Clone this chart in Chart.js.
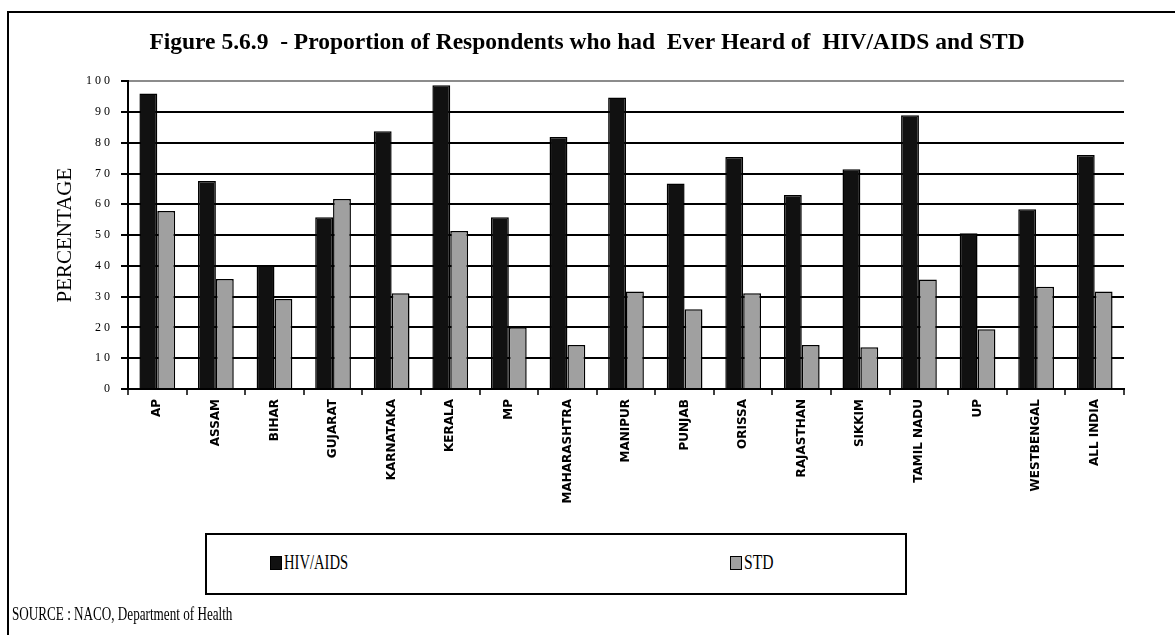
<!DOCTYPE html>
<html>
<head>
<meta charset="utf-8">
<title>Ever Heard of HIV/AIDS and STD</title>
<script src="https://cdn.jsdelivr.net/npm/chart.js@4/dist/chart.umd.min.js"></script>
<style>
  html, body { margin: 0; padding: 0; background: #fff; }
  #page { position: relative; width: 1175px; height: 635px; overflow: hidden; }
  #frame { position: absolute; left: 7px; top: 11px; width: 1300px; height: 700px;
           border-left: 2px solid #000; border-top: 2px solid #000; }
  #chart { position: absolute; left: 0; top: 0; }
  #legend { position: absolute; left: 205px; top: 533px; width: 702px; height: 62px;
            box-sizing: border-box; border: 2px solid #000; background: #fff;
            font-family: "Liberation Serif", serif; font-size: 20px; color: #000; }
  #legend .key { position: absolute; top: 16px; white-space: nowrap; }
  #legend .key i { display: inline-block; width: 10px; height: 12px; border: 1px solid #000;
                   margin-right: 2px; vertical-align: -1px; }
  /* the printed serif text is narrower than the screen face */
  .narrow { display: inline-block; transform-origin: 0 50%; }
  #source { position: absolute; left: 12px; top: 604px; font-family: "Liberation Serif", serif;
            font-size: 18px; color: #000; white-space: nowrap; }
</style>
</head>
<body>
<div id="page">
  <div id="frame"></div>
  <canvas id="chart" width="1175" height="635"></canvas>
  <div id="legend">
    <span class="key" style="left:63px"><i style="background:#111111"></i><span class="narrow" style="transform:scaleX(0.73)">HIV/AIDS</span></span>
    <span class="key" style="left:523px"><i style="background:#a0a0a0"></i><span class="narrow" style="transform:scaleX(0.78)">STD</span></span>
  </div>
  <div id="source"><span class="narrow" style="transform:scaleX(0.73)">SOURCE : NACO, Department of Health</span></div>
</div>
<script>
const states = ['AP', 'ASSAM', 'BIHAR', 'GUJARAT', 'KARNATAKA', 'KERALA', 'MP', 'MAHARASHTRA', 'MANIPUR',
                'PUNJAB', 'ORISSA', 'RAJASTHAN', 'SIKKIM', 'TAMIL NADU', 'UP', 'WESTBENGAL', 'ALL INDIA'];
const hivAids = [96.0, 67.6, 40.2, 55.8, 83.7, 98.7, 55.8, 81.9, 94.7, 66.8, 75.4, 63.0, 71.4, 88.9, 50.6, 58.4, 76.0];
const std = [57.8, 35.7, 29.2, 61.7, 31.1, 51.3, 20.1, 14.3, 31.7, 25.9, 31.1, 14.3, 13.6, 35.6, 19.4, 33.2, 31.7];
const yMax = 100;
const yStep = 10;

// "100" -> "1 0 0", the axis numbers are printed letter-spaced
const spaced = v => String(v).split('').join(' ');

const serif = 'Liberation Serif';
const plotEdge = '#8c8c8c';

const ctx = document.getElementById('chart').getContext('2d');
const myChart = new Chart(ctx, {
    type: 'bar',
    data: {
        labels: states,
        datasets: [{
            label: 'HIV/AIDS',
            data: hivAids,
            backgroundColor: '#111111',
            borderColor: '#000000',
            borderWidth: 1.5,
            categoryPercentage: 0.61,
            barPercentage: 1.0
        }, {
            label: 'STD',
            data: std,
            backgroundColor: '#a0a0a0',
            borderColor: '#000000',
            borderWidth: 1.5,
            categoryPercentage: 0.61,
            barPercentage: 1.0
        }]
    },
    options: {
        responsive: false,
        animation: false,
        devicePixelRatio: 1,
        layout: {
            padding: { left: 50, right: 51, top: 0, bottom: 126 }
        },
        scales: {
            x: {
                grid: {
                    offset: true,
                    // only the closing line on the right is drawn, in grey
                    color: c => c.index === states.length ? plotEdge : 'rgba(0,0,0,0)',
                    lineWidth: 2,
                    tickColor: '#000',
                    tickLength: 6,
                    tickWidth: 1.5
                },
                border: { color: '#000', width: 2 },
                ticks: {
                    autoSkip: false,
                    minRotation: 90,
                    maxRotation: 90,
                    padding: 4,
                    color: '#000',
                    font: { family: 'DejaVu Sans', size: 12, weight: 'bold' }
                },
                afterFit: scale => { scale.height = 120; }
            },
            y: {
                min: 0,
                max: yMax,
                ticks: {
                    stepSize: yStep,
                    padding: 11,
                    color: '#000',
                    font: { family: serif, size: 12 },
                    callback: v => spaced(v)
                },
                grid: {
                    color: c => (c.tick && c.tick.value === yMax) ? plotEdge : '#000',
                    lineWidth: 2,
                    tickColor: '#000',
                    tickLength: 7,
                    tickWidth: 2
                },
                border: { color: '#000', width: 2 },
                title: {
                    display: true,
                    text: 'PERCENTAGE',
                    color: '#000',
                    font: { family: serif, size: 21 },
                    padding: { top: 3, bottom: 0 }
                },
                afterFit: scale => { scale.width = 78; }
            }
        },
        plugins: {
            legend: { display: false },
            tooltip: { enabled: false },
            title: {
                display: true,
                text: 'Figure 5.6.9  - Proportion of Respondents who had  Ever Heard of  HIV/AIDS and STD',
                color: '#000',
                font: { family: serif, size: 23.5, weight: 'bold' },
                padding: { top: 29, bottom: 24 }
            }
        }
    }
});
</script>
</body>
</html>
